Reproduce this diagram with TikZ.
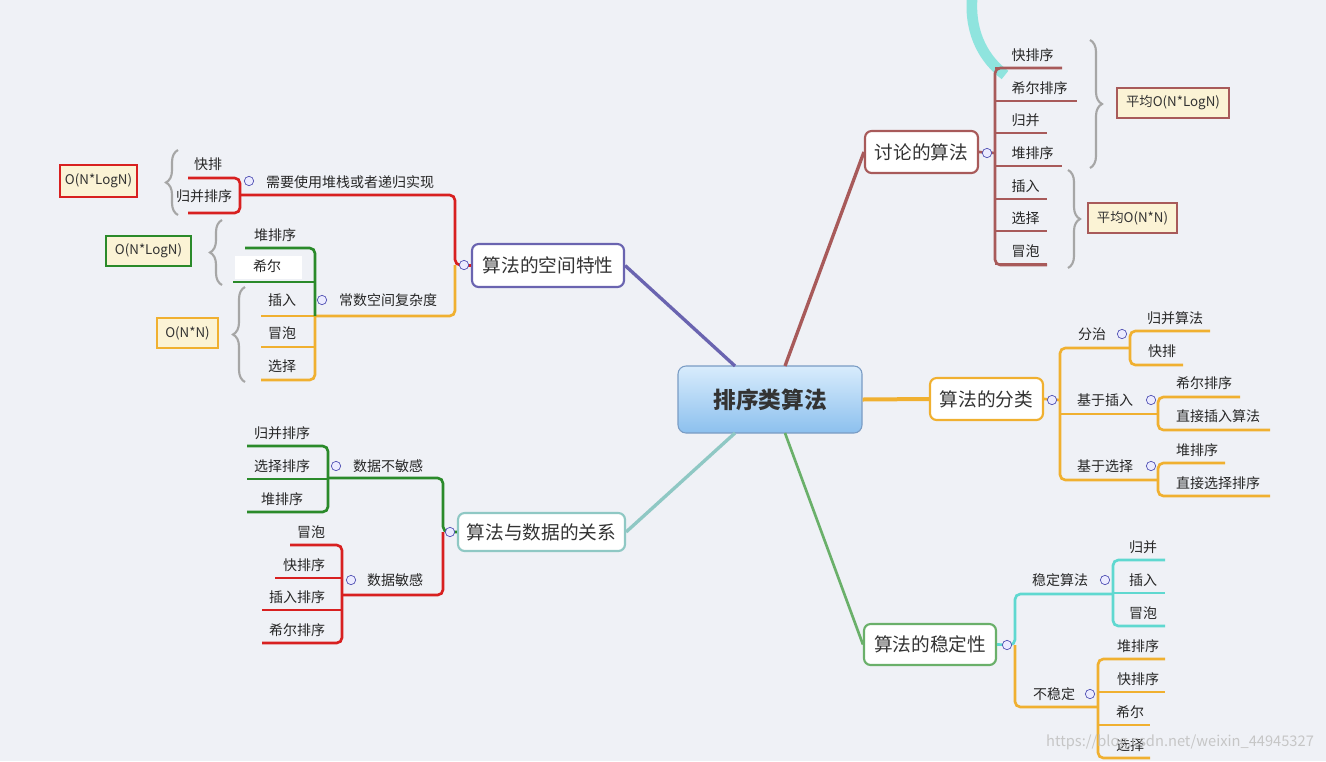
\documentclass[tikz,border=0pt]{standalone}
\usepackage{fontspec}
\setmainfont{Noto Sans CJK SC}
\usetikzlibrary{decorations.pathreplacing}
\definecolor{bg}{HTML}{EFF1F6}
\definecolor{cbrown}{HTML}{A85A5A}
\definecolor{cpurp}{HTML}{6A64B0}
\definecolor{cred}{HTML}{D82020}
\definecolor{corg}{HTML}{F0B030}
\definecolor{cgreen}{HTML}{2A8A2A}
\definecolor{cteal}{HTML}{8FC8C4}
\definecolor{cstab}{HTML}{6AB06A}
\definecolor{ccyan}{HTML}{5FD8D0}
\definecolor{note}{HTML}{FBF3D5}
\definecolor{ctop}{HTML}{D8ECFC}
\definecolor{cbot}{HTML}{8CC0EE}
\definecolor{cbord}{HTML}{7A9CC4}
\tikzset{
 lab/.style={font=\fontsize{10.5}{12}\selectfont, inner sep=1pt, text=black!85},
 topic/.style={draw, line width=1.6pt, rounded corners=5pt, fill=white, font=\fontsize{14}{16}\selectfont, inner sep=0pt, text=black!80},
 br/.style={line width=2pt, rounded corners=4pt},
 mn/.style={circle, draw=gray!60!blue, fill=blue!8, line width=0.5pt, minimum size=7pt, inner sep=0pt},
 brc/.style={decorate, decoration={brace, amplitude=9pt}, draw=gray!70, line width=1.6pt},
 cbox/.style={draw, line width=1.6pt, fill=note, font=\fontsize{10}{12}\selectfont, inner sep=0pt, text=black!80}
}
\begin{document}
\begin{tikzpicture}[x=0.75pt,y=-0.75pt]
\fill[bg] (0,0) rectangle (1326,761);
\useasboundingbox (0,0) rectangle (1326,761);
% cyan arc decoration
\draw[ccyan!70, line width=8pt] (972,0) .. controls (970,35) and (985,60) .. (1005,75);
% central
\node[draw=cbord, line width=0.8pt, rounded corners=6pt, top color=ctop, bottom color=cbot, minimum width=184*0.75pt, minimum height=67*0.75pt, font=\fontsize{17}{20}\selectfont\bfseries, text=black!80] (C) at (770,399.5) {排序类算法};
% main topics
\node[topic, draw=cbrown, minimum width=113*0.75pt, minimum height=42*0.75pt] (T1) at (921.5,152) {讨论的算法};
\node[topic, draw=cpurp, minimum width=152*0.75pt, minimum height=43*0.75pt] (T2) at (548,265.5) {算法的空间特性};
\node[topic, draw=cteal, minimum width=167*0.75pt, minimum height=38*0.75pt] (T3) at (541.5,532) {算法与数据的关系};
\node[topic, draw=corg, minimum width=113*0.75pt, minimum height=42*0.75pt] (T4) at (986.5,399) {算法的分类};
\node[topic, draw=cstab, minimum width=132*0.75pt, minimum height=41*0.75pt] (T5) at (930,644.5) {算法的稳定性};
\draw[cbrown, line width=2.5pt] (785,366) -- (T1.west);
\draw[cpurp, line width=2.5pt] (735,366) -- (T2.east);
\draw[cteal, line width=2.5pt] (735,433) -- (T3.east);
\draw[corg, line width=3pt] (C.east) -- (T4.west);
\draw[cstab, line width=2pt] (785,433) -- (T5.west);

% ---- T1 discussed algorithms
\draw[cbrown, br] (T1.east) -- (995,153);
\draw[cbrown, br] (1062,68) -- (995,68) -- (995,265) -- (1047,265);
\foreach \t/\y/\e in {快排序/55/1062, 希尔排序/88/1077, 归并/120/1047, 堆排序/153/1062, 插入/186/1047, 选择/218/1047, 冒泡/251/1047}{
  \node[lab, anchor=west] at (1010,\y) {\t};
  \draw[cbrown, line width=2pt] (995,\y+13) -- (\e,\y+13);
}
\node[mn] at (987,153) {};
\draw[brc] (1090,40) -- (1090,168);
\node[cbox, draw=cbrown, minimum width=112*0.75pt, minimum height=30*0.75pt] (A1) at (1173,103) {平均O(N*LogN)};
\draw[brc] (1068,170) -- (1068,268);
\node[cbox, draw=cbrown, minimum width=89*0.75pt, minimum height=30*0.75pt] (A2) at (1132.5,218) {平均O(N*N)};

% ---- T2 space
\draw[cred, br] (T2.west) -- (455,265) -- (455,195) -- (240,195);
\draw[corg, br] (455,265) -- (455,316) -- (315,316);
\node[mn] at (464,265) {};
\node[lab] at (350,182) {需要使用堆栈或者递归实现};
\node[mn] at (249,181) {};
\draw[cred, br] (188,178) -- (240,178) -- (240,213) -- (188,213);
\node[lab] at (208,164) {快排};
\node[lab] at (204,196) {归并排序};
\draw[brc] (178,215) -- (178,150);
\node[cbox, draw=cred, minimum width=77*0.75pt, minimum height=32*0.75pt] at (98.5,181) {O(N*LogN)};
\node[lab] at (388,300) {常数空间复杂度};
\node[mn] at (322,300) {};
\draw[corg, br] (315,316) -- (315,380) -- (261,380);
\draw[corg, line width=2pt] (261,316) -- (315,316);
\draw[corg, line width=2pt] (261,347) -- (315,347);
\draw[cgreen, br] (245,248) -- (315,248) -- (315,316);
\draw[cgreen, line width=2pt] (233,282) -- (315,282);
\fill[white] (235,256) rectangle (302,279);
\node[lab] at (275,235) {堆排序};
\node[lab] at (267,266) {希尔};
\node[lab] at (282,300) {插入};
\node[lab] at (282,333) {冒泡};
\node[lab] at (282,366) {选择};
\draw[brc] (222,285) -- (222,220);
\node[cbox, draw=cgreen, minimum width=85*0.75pt, minimum height=30*0.75pt] at (148.5,251) {O(N*LogN)};
\draw[brc] (245,382) -- (245,287);
\node[cbox, draw=corg, minimum width=61*0.75pt, minimum height=30*0.75pt] at (187.5,333) {O(N*N)};

% ---- T3 data
\draw[cgreen, br] (T3.west) -- (443,532) -- (443,478) -- (328,478);
\draw[cred, br] (443,532) -- (443,595) -- (342,595);
\node[mn] at (450,532) {};
\node[lab] at (388,466) {数据不敏感};
\node[mn] at (336,466) {};
\draw[cgreen, br] (247,446) -- (328,446) -- (328,512) -- (247,512);
\draw[cgreen, line width=2pt] (247,479) -- (328,479);
\node[lab] at (282,433) {归并排序};
\node[lab] at (282,466) {选择排序};
\node[lab] at (282,499) {堆排序};
\node[lab] at (395,580) {数据敏感};
\node[mn] at (351,580) {};
\draw[cred, br] (290,545) -- (342,545) -- (342,643) -- (262,643);
\draw[cred, line width=2pt] (275,578) -- (342,578);
\draw[cred, line width=2pt] (262,610) -- (342,610);
\node[lab] at (311,532) {冒泡};
\node[lab] at (304,565) {快排序};
\node[lab] at (297,597) {插入排序};
\node[lab] at (297,630) {希尔排序};

% ---- T4 classification
\draw[corg, br] (T4.east) -- (1060,400);
\draw[corg, br] (1130,348) -- (1060,348) -- (1060,480) -- (1158,480);
\draw[corg, line width=2pt] (1060,414) -- (1158,414);
\node[mn] at (1052,400) {};
\node[lab] at (1092,334) {分治};
\node[mn] at (1122,334) {};
\draw[corg, br] (1210,331) -- (1130,331) -- (1130,365) -- (1183,365);
\node[lab] at (1175,318) {归并算法};
\node[lab] at (1162,351) {快排};
\node[lab] at (1105,400) {基于插入};
\node[mn] at (1151,400) {};
\draw[corg, br] (1240,397) -- (1158,397) -- (1158,430) -- (1270,430);
\node[lab] at (1204,383) {希尔排序};
\node[lab] at (1218,416) {直接插入算法};
\node[lab] at (1105,466) {基于选择};
\node[mn] at (1151,466) {};
\draw[corg, br] (1225,463) -- (1158,463) -- (1158,496) -- (1270,496);
\node[lab] at (1197,450) {堆排序};
\node[lab] at (1218,483) {直接选择排序};

% ---- T5 stability
\draw[ccyan, br] (T5.east) -- (1015,645) -- (1015,594) -- (1113,594);
\draw[corg, br] (1015,645) -- (1015,707) -- (1098,707);
\node[mn] at (1007,645) {};
\node[lab] at (1060,580) {稳定算法};
\node[mn] at (1105,580) {};
\draw[ccyan, br] (1165,560) -- (1113,560) -- (1113,626) -- (1165,626);
\draw[ccyan, line width=2pt] (1113,593) -- (1165,593);
\node[lab] at (1143,547) {归并};
\node[lab] at (1143,580) {插入};
\node[lab] at (1143,613) {冒泡};
\node[lab] at (1054,694) {不稳定};
\node[mn] at (1090,694) {};
\draw[corg, br] (1165,659) -- (1098,659) -- (1098,758) -- (1150,758);
\draw[corg, line width=2pt] (1098,692) -- (1165,692);
\draw[corg, line width=2pt] (1098,725) -- (1150,725);
\node[lab] at (1138,646) {堆排序};
\node[lab] at (1138,679) {快排序};
\node[lab] at (1130,712) {希尔};
\node[lab] at (1130,745) {选择};
\node[font=\fontsize{11}{12}\selectfont, text=gray!45] at (1180,742) {https://blog.csdn.net/weixin\_44945327};
\end{tikzpicture}
\end{document}
